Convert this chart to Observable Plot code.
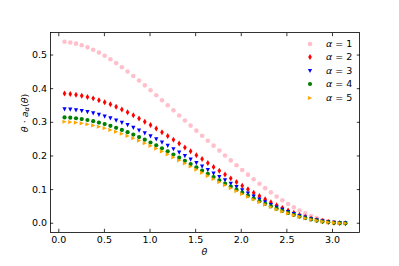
<!DOCTYPE html>
<html><head><meta charset="utf-8">
<script src="https://cdn.jsdelivr.net/npm/d3@7"></script>
<script src="https://cdn.jsdelivr.net/npm/@observablehq/plot@0.6"></script>
<style>
body{margin:0;background:#fff;}
#wrap{position:relative;width:399px;height:266px;font-family:"DejaVu Sans",sans-serif;}
.lrow{position:absolute;height:12px;line-height:12px;font-size:9.5px;color:#000;white-space:nowrap;}
.lrow svg{position:absolute;left:0;top:0;}
.lrow span{position:absolute;left:22px;top:0;}
</style></head><body><div id="wrap"></div>
<script>
const theta = [0.0628,0.1257,0.1885,0.2513,0.3142,0.3770,0.4398,0.5027,0.5655,0.6283,
0.6912,0.7540,0.8168,0.8796,0.9425,1.0053,1.0681,1.1310,1.1938,1.2566,
1.3195,1.3823,1.4451,1.5080,1.5708,1.6336,1.6965,1.7593,1.8221,1.8850,
1.9478,2.0106,2.0735,2.1363,2.1991,2.2619,2.3248,2.3876,2.4504,2.5133,
2.5761,2.6389,2.7018,2.7646,2.8274,2.8903,2.9531,3.0159,3.0788,3.1416];
const a1 = [0.5393,0.5372,0.5338,0.5290,0.5229,0.5156,0.5072,0.4978,0.4873,0.4760,
0.4639,0.4512,0.4379,0.4241,0.4099,0.3954,0.3806,0.3657,0.3507,0.3356,
0.3205,0.3054,0.2903,0.2752,0.2603,0.2454,0.2306,0.2159,0.2013,0.1868,
0.1725,0.1584,0.1444,0.1308,0.1174,0.1044,0.0918,0.0797,0.0682,0.0573,
0.0471,0.0377,0.0293,0.0217,0.0152,0.0098,0.0056,0.0025,0.0006,0.0000];
const a2 = [0.3856,0.3843,0.3822,0.3793,0.3756,0.3712,0.3659,0.3600,0.3534,0.3462,
0.3384,0.3300,0.3211,0.3117,0.3020,0.2918,0.2814,0.2706,0.2596,0.2484,
0.2370,0.2255,0.2140,0.2023,0.1907,0.1791,0.1675,0.1560,0.1446,0.1334,
0.1224,0.1116,0.1011,0.0909,0.0810,0.0715,0.0625,0.0538,0.0457,0.0382,
0.0312,0.0249,0.0192,0.0142,0.0099,0.0064,0.0036,0.0016,0.0004,0.0000];
const a3 = [0.3387,0.3376,0.3358,0.3334,0.3303,0.3265,0.3221,0.3171,0.3115,0.3053,
0.2986,0.2914,0.2837,0.2756,0.2672,0.2583,0.2491,0.2397,0.2299,0.2200,
0.2099,0.1997,0.1893,0.1789,0.1685,0.1580,0.1477,0.1374,0.1272,0.1172,
0.1073,0.0977,0.0883,0.0793,0.0705,0.0621,0.0542,0.0466,0.0396,0.0330,
0.0269,0.0214,0.0165,0.0122,0.0085,0.0055,0.0031,0.0014,0.0003,0.0000];
const a4 = [0.3147,0.3137,0.3121,0.3098,0.3069,0.3034,0.2993,0.2947,0.2895,0.2837,
0.2775,0.2708,0.2637,0.2561,0.2483,0.2400,0.2315,0.2227,0.2137,0.2044,
0.1950,0.1855,0.1759,0.1663,0.1566,0.1469,0.1372,0.1276,0.1182,0.1089,
0.0997,0.0908,0.0821,0.0736,0.0655,0.0577,0.0503,0.0433,0.0368,0.0306,
0.0250,0.0199,0.0153,0.0113,0.0079,0.0051,0.0029,0.0013,0.0003,0.0000];
const a5 = [0.3017,0.3008,0.2992,0.2970,0.2942,0.2909,0.2870,0.2825,0.2775,0.2720,
0.2660,0.2596,0.2528,0.2456,0.2380,0.2301,0.2219,0.2135,0.2048,0.1960,
0.1870,0.1779,0.1687,0.1594,0.1501,0.1408,0.1316,0.1224,0.1133,0.1044,
0.0956,0.0870,0.0787,0.0706,0.0628,0.0554,0.0483,0.0415,0.0352,0.0294,
0.0240,0.0191,0.0147,0.0109,0.0076,0.0049,0.0027,0.0012,0.0003,0.0000];
const alphas = ["1","2","3","4","5"];
const colors = ["pink","red","blue","green","orange"];
const xTicks = [0,0.5,1,1.5,2,2.5,3];
const yTicks = [0,0.1,0.2,0.3,0.4,0.5];

const rad = s => Math.sqrt(s/Math.PI);
const circle = {draw(c,s){const r=rad(s); c.moveTo(r,0); c.arc(0,0,r,0,2*Math.PI); c.closePath();}};
const thinDiamond = {draw(c,s){const r=rad(s); c.moveTo(0,-r*1.3); c.lineTo(r*0.8,0); c.lineTo(0,r*1.3); c.lineTo(-r*0.8,0); c.closePath();}};
const triDown = {draw(c,s){const r=rad(s); c.moveTo(0,r); c.lineTo(-r,-r); c.lineTo(r,-r); c.closePath();}};
const triRight = {draw(c,s){const r=rad(s); c.moveTo(r,0); c.lineTo(-r,-r); c.lineTo(-r,r); c.closePath();}};
const symbols = [circle, thinDiamond, triDown, circle, triRight];
const radii = [2.3, 2.3, 2.1, 2.1, 2.1];

const series = [a1,a2,a3,a4,a5];
const dots = series.map((s,i) => Plot.dot(theta.map((t,j)=>({theta:t, v:s[j]})), {
  x:"theta", y:"v", fill: colors[i], stroke: null, symbol: symbols[i], r: radii[i]
}));

const chart = Plot.plot({
  width:399, height:266,
  marginLeft:50, marginRight:40, marginTop:32, marginBottom:34,
  x:{domain:[-0.091,3.296]},
  y:{domain:[-0.0275,0.567]},
  style:{fontFamily:"DejaVu Sans, sans-serif", fontSize:"9.5px", color:"#000", background:"#fff"},
  marks:[
    ...dots,
    Plot.frame({stroke:"#000", strokeWidth:0.8}),
    Plot.axisX(xTicks, {anchor:"bottom", tickSize:-3.2, tickFormat:()=>"", label:null, strokeWidth:0.8}),
    Plot.axisX(xTicks, {anchor:"top", tickSize:-3.2, tickFormat:()=>"", label:null, strokeWidth:0.8}),
    Plot.axisX(xTicks, {anchor:"bottom", tickSize:0, tickPadding:3.5, tickFormat:d=>d.toFixed(1), label:null}),
    Plot.axisY(yTicks, {anchor:"left", tickSize:-3.2, tickFormat:()=>"", label:null, strokeWidth:0.8}),
    Plot.axisY(yTicks, {anchor:"right", tickSize:-3.2, tickFormat:()=>"", label:null, strokeWidth:0.8}),
    Plot.axisY(yTicks, {anchor:"left", tickSize:0, tickPadding:3.5, tickFormat:d=>d.toFixed(1), label:null})
  ]
});
const wrap = document.getElementById("wrap");
wrap.appendChild(chart);

const svg = d3.select(chart);
svg.append("text").attr("x",204.4).attr("y",252).attr("text-anchor","middle")
  .attr("dominant-baseline","middle").attr("font-size","9.5px").attr("fill","#000")
  .attr("font-style","italic").text("θ");
const yl = svg.append("text").attr("transform","translate(25,113) rotate(-90)")
  .attr("text-anchor","middle").attr("dominant-baseline","middle").attr("font-size","9.5px").attr("fill","#000");
yl.append("tspan").attr("font-style","italic").text("θ");
yl.append("tspan").text(" · ");
yl.append("tspan").attr("font-style","italic").text("a");
yl.append("tspan").attr("font-style","italic").attr("font-size","6.7px").attr("dy","2").text("α");
yl.append("tspan").attr("dy","-2").text("(");
yl.append("tspan").attr("font-style","italic").text("θ");
yl.append("tspan").text(")");

const rowY = [44, 57.4, 70.8, 84.2, 97.6];
alphas.forEach((a,i) => {
  const row = document.createElement("div");
  row.className = "lrow";
  row.style.left = "304px";
  row.style.top = (rowY[i]-6) + "px";
  const path = d3.symbol(symbols[i], Math.PI*radii[i]*radii[i])();
  row.innerHTML = `<svg width="12" height="12"><path transform="translate(6,6)" d="${path}" fill="${colors[i]}"/></svg><span><i>α</i> = ${a}</span>`;
  wrap.appendChild(row);
});
</script></body></html>
